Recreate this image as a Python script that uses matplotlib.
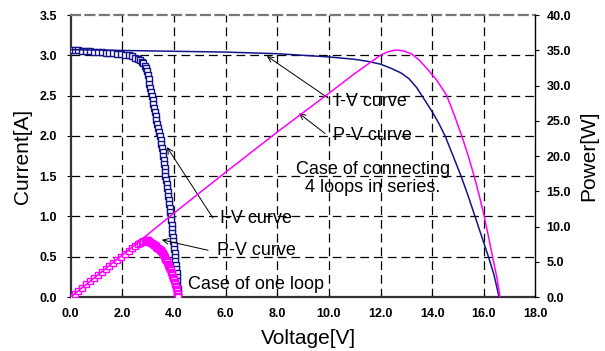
import matplotlib
matplotlib.use('Agg')
from matplotlib import pyplot as plt

plt.rcParams['font.family'] = ['Liberation Sans', 'DejaVu Sans']

# one loop: measured I-V points (open squares)
v_one = [0.00, 0.15, 0.30, 0.45, 0.60, 0.75, 0.90, 1.05, 1.20, 1.35, 1.50, 1.65,
         1.80, 1.95, 2.10, 2.25, 2.38, 2.50, 2.60, 2.68, 2.75, 2.81, 2.86, 2.91,
         2.95, 2.99, 3.02, 3.045, 3.07, 3.10, 3.14, 3.17, 3.20, 3.23, 3.26, 3.29,
         3.32, 3.35, 3.38, 3.41, 3.45, 3.48, 3.51, 3.54, 3.56, 3.58, 3.60, 3.62,
         3.64, 3.66, 3.67, 3.69, 3.71, 3.73, 3.75, 3.77, 3.79, 3.81, 3.83, 3.85,
         3.87, 3.89, 3.91, 3.93, 3.94, 3.96, 3.97, 3.99, 4.01, 4.02, 4.04, 4.05,
         4.07, 4.08, 4.10, 4.11, 4.12, 4.13, 4.14, 4.15, 4.17]
i_one = [3.06, 3.06, 3.06, 3.05, 3.05, 3.05, 3.04, 3.04, 3.04, 3.03, 3.03, 3.03,
         3.02, 3.02, 3.01, 3.00, 2.99, 2.97, 2.96, 2.94, 2.92, 2.90, 2.87, 2.84,
         2.81, 2.75, 2.70, 2.65, 2.60, 2.55, 2.50, 2.45, 2.40, 2.35, 2.30, 2.25,
         2.20, 2.15, 2.10, 2.05, 2.00, 1.95, 1.90, 1.85, 1.80, 1.75, 1.70, 1.65,
         1.60, 1.55, 1.50, 1.45, 1.40, 1.35, 1.30, 1.25, 1.20, 1.15, 1.10, 1.05,
         1.00, 0.95, 0.90, 0.85, 0.80, 0.75, 0.70, 0.65, 0.60, 0.55, 0.50, 0.45,
         0.40, 0.35, 0.30, 0.25, 0.20, 0.15, 0.10, 0.05, 0.00]
p_one = [0.00, 0.45, 0.90, 1.34, 1.78, 2.23, 2.67, 3.11, 3.56, 3.99, 4.43, 4.87,
         5.30, 5.74, 6.16, 6.58, 6.93, 7.24, 7.50, 7.68, 7.83, 7.94, 8.01, 8.06,
         8.08, 8.02, 7.95, 7.87, 7.78, 7.71, 7.65, 7.57, 7.49, 7.40, 7.31, 7.22,
         7.12, 7.02, 6.92, 6.82, 6.73, 6.62, 6.50, 6.39, 6.25, 6.11, 5.97, 5.82,
         5.68, 5.53, 5.37, 5.22, 5.06, 4.91, 4.75, 4.59, 4.43, 4.27, 4.11, 3.94,
         3.77, 3.60, 3.43, 3.26, 3.07, 2.90, 2.71, 2.53, 2.35, 2.16, 1.97, 1.78,
         1.59, 1.39, 1.20, 1.00, 0.80, 0.60, 0.40, 0.20, 0.00]

# four loops in series (lines)
v_iv4 = [0, 2, 4, 6, 8, 9, 10, 10.5, 11, 11.5, 12, 12.4, 12.8, 13.1, 13.4, 13.72,
         14.0, 14.25, 14.5, 14.8, 15.12, 15.4, 15.66, 15.92, 16.18, 16.4, 16.59]
i_iv4 = [3.07, 3.06, 3.05, 3.04, 3.02, 3.00, 2.98, 2.965, 2.95, 2.925, 2.89, 2.84,
         2.78, 2.71, 2.60, 2.44, 2.30, 2.16, 2.00, 1.76, 1.50, 1.25, 1.00, 0.75,
         0.50, 0.27, 0.00]
v_pv4 = [0, 2, 4, 6, 8, 10, 11, 11.5, 12, 12.3, 12.6, 12.9, 13.2, 13.5, 13.8, 14.17,
         14.56, 14.85, 15.14, 15.4, 15.63, 15.83, 16.02, 16.18, 16.34, 16.5, 16.63]
p_pv4 = [0, 5.95, 11.9, 17.7, 23.4, 28.9, 31.7, 33.0, 34.3, 34.8, 35.05, 34.9, 34.5,
         33.6, 32.4, 30.8, 28.6, 25.9, 22.9, 20.0, 17.1, 14.3, 11.4, 8.6, 5.7, 2.9, 0]

navy = '#14148a'
pink = '#ff00ff'

fig = plt.figure(figsize=(6.05, 3.51), dpi=100)
ax = fig.add_axes([0.1169, 0.1538, 0.7681, 0.8034])
ax2 = ax.twinx()

ax.set_xlim(0, 18)
ax.set_ylim(0, 3.5)
ax2.set_ylim(0, 40)
ax.set_xticks([0, 2, 4, 6, 8, 10, 12, 14, 16, 18])
ax.set_yticks([0, 0.5, 1.0, 1.5, 2.0, 2.5, 3.0, 3.5])
ax2.set_yticks([0, 5, 10, 15, 20, 25, 30, 35, 40])
ax.set_xticklabels(['%.1f' % t for t in ax.get_xticks()])
ax.set_yticklabels(['%.1f' % t for t in ax.get_yticks()])
ax2.set_yticklabels(['%.1f' % t for t in ax2.get_yticks()])

# dashed grid
for x in range(2, 18, 2):
    ax.axvline(x, color='black', lw=0.9, ls=(0, (7, 4)), zorder=0)
for y in [0.5, 1.0, 1.5, 2.0, 2.5, 3.0]:
    ax.axhline(y, color='black', lw=0.9, ls=(0, (7, 4)), zorder=0)

for sp in ['left', 'bottom']:
    ax.spines[sp].set_color('#333333')
    ax.spines[sp].set_linewidth(1.6)
ax.spines['top'].set_color('#777777')
ax.spines['top'].set_linewidth(1.6)
ax.spines['top'].set_linestyle((0, (4, 2.5)))
ax2.spines['top'].set_visible(False)
ax2.spines['left'].set_visible(False)
ax2.spines['bottom'].set_visible(False)
ax2.spines['right'].set_color('black')
ax2.spines['right'].set_linewidth(1.0)
ax.spines['right'].set_visible(False)

ax.tick_params(axis='y', direction='out', length=3, pad=7, labelsize=9)
ax.tick_params(axis='x', direction='in', length=3, pad=8, labelsize=9)
ax2.tick_params(axis='y', direction='out', length=3, pad=5, labelsize=9)
for lab in ax.get_xticklabels() + ax.get_yticklabels() + ax2.get_yticklabels():
    lab.set_fontweight('bold')

# one loop: squares
ax.plot(v_one, i_one, color=navy, lw=0.6, marker='s', ms=4, mfc='white',
        mec=navy, mew=1.0, zorder=3)
ax2.plot(v_one, p_one, color=pink, lw=0.6, marker='s', ms=4, mfc='white',
         mec=pink, mew=1.0, zorder=3)
# four loops: lines
ax.plot(v_iv4, i_iv4, color=navy, lw=1.1, zorder=4)
ax2.plot(v_pv4, p_pv4, color=pink, lw=1.1, zorder=4)

arrow = dict(arrowstyle='->', color='black', lw=0.7, shrinkA=0, shrinkB=0,
             mutation_scale=10)
fs = 13
ax.annotate('', xy=(7.6, 2.99), xytext=(9.97, 2.47), arrowprops=arrow)
ax.text(10.24, 2.43, 'I-V curve', fontsize=fs, ha='left', va='center')
ax.annotate('', xy=(8.84, 2.28), xytext=(9.85, 2.03), arrowprops=arrow)
ax.text(10.16, 2.0, 'P-V curve', fontsize=fs, ha='left', va='center')
ax.text(11.71, 1.47, 'Case of connecting\n4 loops in series.', fontsize=fs,
        ha='center', va='center', multialignment='center', linespacing=1.1)

ax.annotate('', xy=(3.73, 1.86), xytext=(5.51, 0.98), arrowprops=arrow)
ax.text(5.79, 0.98, 'I-V curve', fontsize=fs, ha='left', va='center')
ax.annotate('', xy=(3.53, 0.71), xytext=(5.32, 0.58), arrowprops=arrow)
ax.text(5.67, 0.58, 'P-V curve', fontsize=fs, ha='left', va='center')
ax.text(4.54, 0.16, 'Case of one loop', fontsize=fs, ha='left', va='center')

fig.text(23 / 605, 1 - 156 / 351, 'Current[A]', rotation=90, fontsize=15,
         ha='center', va='center')
fig.text(589 / 605, 1 - 156 / 351, 'Power[W]', rotation=90, fontsize=15,
         ha='center', va='center')
fig.text(308 / 605, 1 - 338 / 351, 'Voltage[V]', fontsize=15,
         ha='center', va='center')

fig.savefig('out.png', dpi=100)
